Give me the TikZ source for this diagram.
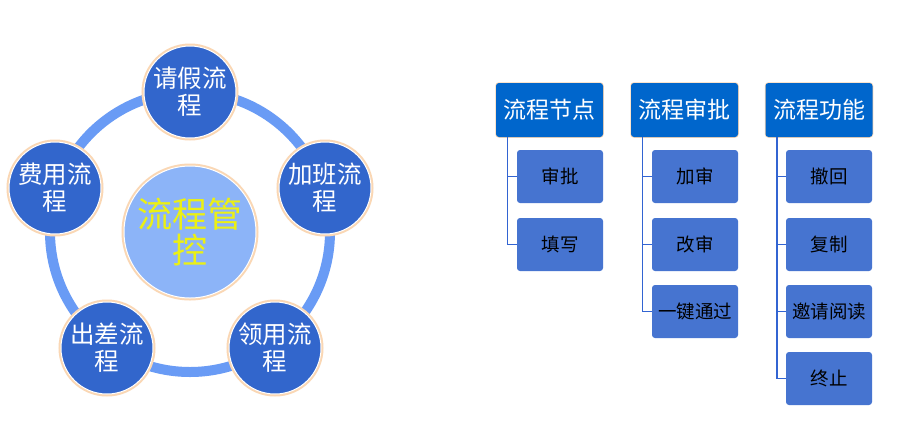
\documentclass[tikz,border=0pt]{standalone}
\usepackage{fontspec}
\setmainfont{Noto Sans CJK SC}
\begin{document}
\begin{tikzpicture}[x=1pt,y=-1pt,
  petal/.style={circle,minimum size=92pt,inner sep=0pt,fill=nodeblue,draw=white,line width=1pt,
    text=white,font=\fontsize{24.5}{27}\selectfont,align=center,
    preaction={draw=peach,line width=5pt}},
  hub/.style={circle,minimum size=132pt,inner sep=0pt,fill=hubblue,draw=white,line width=1pt,
    text=hubyellow,font=\fontsize{35}{36}\selectfont,align=center,
    preaction={draw=peach,line width=5pt}},
  headbox/.style={rectangle,rounded corners=3pt,minimum width=107pt,minimum height=54pt,inner sep=0pt,
    fill=headblue,text=white,font=\fontsize{23}{26}\selectfont,preaction={draw=peach,line width=1.5pt}},
  childbox/.style={rectangle,rounded corners=3pt,minimum width=86pt,minimum height=53pt,inner sep=0pt,
    fill=childblue,text=black,font=\fontsize{18.5}{22}\selectfont},
  link/.style={draw=linkblue,line width=1.5pt}
]
\definecolor{nodeblue}{RGB}{50,102,204}
\definecolor{hubblue}{RGB}{140,180,248}
\definecolor{hubyellow}{RGB}{235,240,20}
\definecolor{peach}{RGB}{250,215,180}
\definecolor{ringblue}{RGB}{105,155,245}
\definecolor{headblue}{RGB}{0,102,204}
\definecolor{childblue}{RGB}{70,116,208}
\definecolor{linkblue}{RGB}{50,100,210}
\useasboundingbox (0,0) rectangle (900,432);
\fill[white] (0,0) rectangle (900,432);

% left cycle
\coordinate (c) at (190,232);
\draw[ringblue,line width=10pt] (c) circle[radius=140];
\node[hub] (hub) at (c) {流程管\\控};
\node[petal] (p1) at (190,92) {请假流\\程};
\node[petal] (p2) at (325,188) {加班流\\程};
\node[petal] (p3) at (275,348) {领用流\\程};
\node[petal] (p4) at (107,348) {出差流\\程};
\node[petal] (p5) at (55,188) {费用流\\程};

% right trees
\node[headbox] (h1) at (549.5,110) {流程节点};
\node[headbox] (h2) at (684.5,110) {流程审批};
\node[headbox] (h3) at (819,110) {流程功能};

\node[childbox] (a1) at (560,176.5) {审批};
\node[childbox] (a2) at (560,244.5) {填写};

\node[childbox] (b1) at (695,176.5) {加审};
\node[childbox] (b2) at (695,244.5) {改审};
\node[childbox] (b3) at (695,311.5) {一键通过};

\node[childbox] (d1) at (829,176.5) {撤回};
\node[childbox] (d2) at (829,244.5) {复制};
\node[childbox] (d3) at (829,311.5) {邀请阅读};
\node[childbox] (d4) at (829,378.5) {终止};

\foreach \h/\k in {h1/a1,h1/a2,h2/b1,h2/b2,h2/b3,h3/d1,h3/d2,h3/d3,h3/d4}{
  \draw[link] ([xshift=-42pt]\h.south) |- (\k.west);
}
\end{tikzpicture}
\end{document}
